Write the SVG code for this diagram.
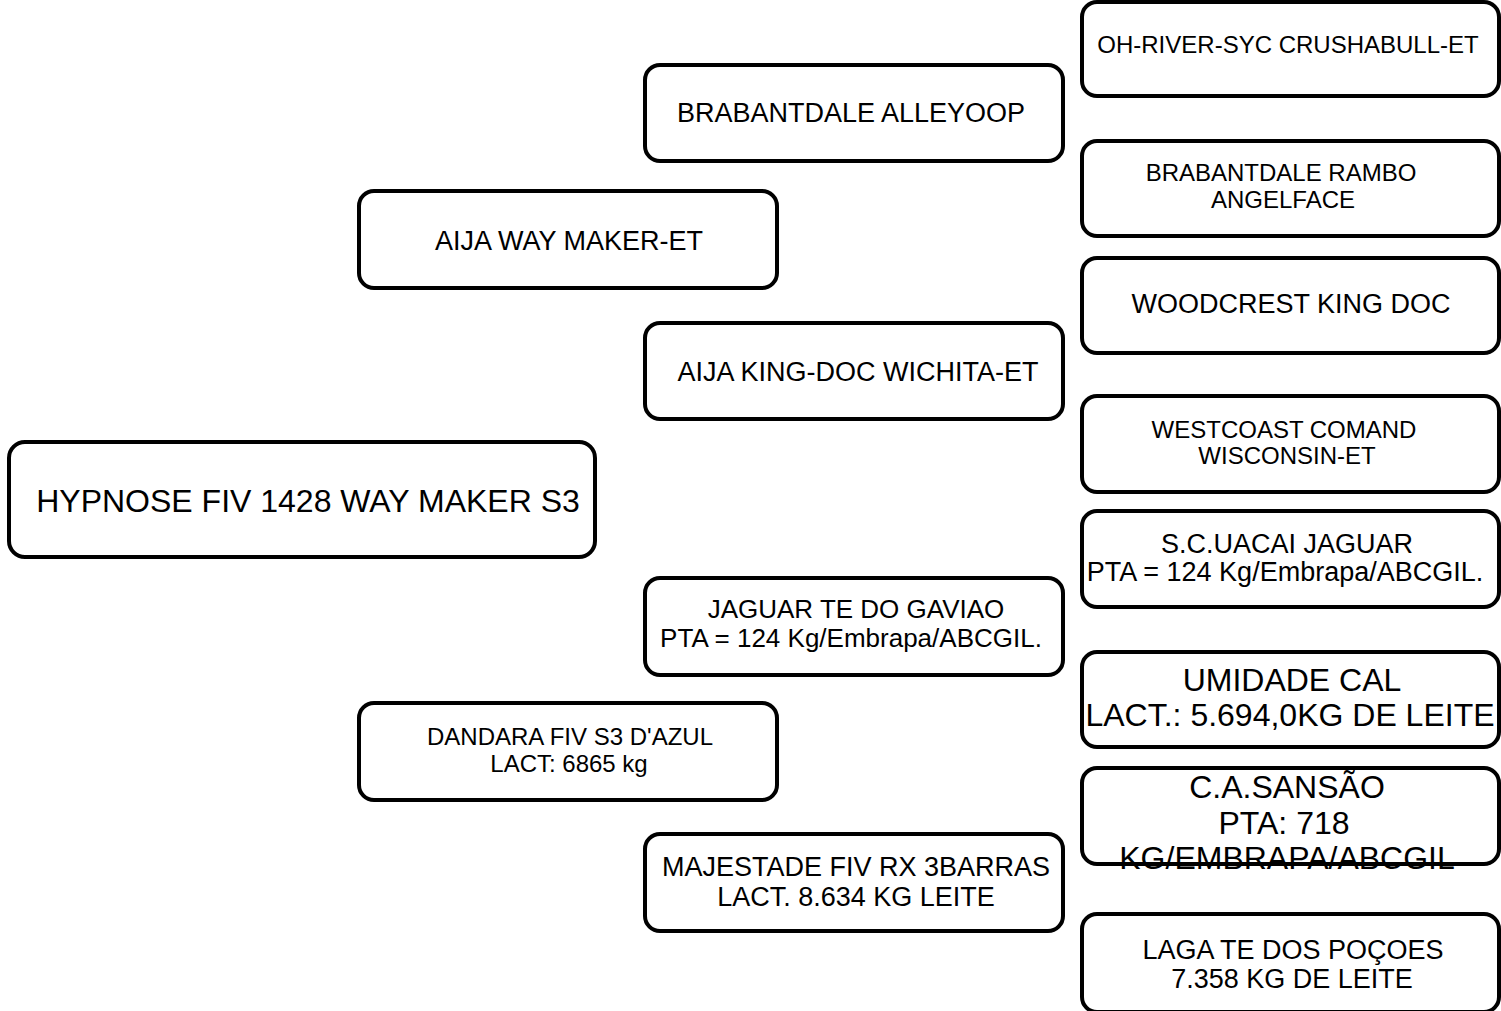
<svg xmlns="http://www.w3.org/2000/svg" width="1501" height="1011" viewBox="0 0 1501 1011">
<style>
.box{fill:#fff;stroke:#000;stroke-width:4}
text{font-family:"Liberation Sans",Arial,sans-serif;fill:#000;text-anchor:middle}
.f24{font-size:24px}
.f26{font-size:26px}
.f27{font-size:27px}
.f32{font-size:32px}
</style>
<rect width="1501" height="1011" fill="#fff"/>
<g id="connectors"></g>
<g id="n-hypnose"><rect class="box" x="9" y="442" width="586" height="115" rx="16"/><text class="f32" x="308" y="512">HYPNOSE FIV 1428 WAY MAKER S3</text></g>
<g id="n-aija-way-maker"><rect class="box" x="359" y="191" width="418" height="97" rx="15"/><text class="f27" x="569" y="250">AIJA WAY MAKER-ET</text></g>
<g id="n-alleyoop"><rect class="box" x="645" y="65" width="418" height="96" rx="15"/><text class="f27" x="851" y="122">BRABANTDALE ALLEYOOP</text></g>
<g id="n-wichita"><rect class="box" x="645" y="323" width="418" height="96" rx="15"/><text class="f27" x="858" y="381">AIJA KING-DOC WICHITA-ET</text></g>
<g id="n-jaguar-gaviao"><rect class="box" x="645" y="578" width="418" height="97" rx="15"/><text class="f26" x="856" y="618">JAGUAR TE DO GAVIAO</text><text class="f26" x="851" y="647">PTA = 124 Kg/Embrapa/ABCGIL.</text></g>
<g id="n-dandara"><rect class="box" x="359" y="703" width="418" height="97" rx="15"/><text class="f24" x="570" y="745">DANDARA FIV S3 D'AZUL</text><text class="f24" x="569" y="772">LACT: 6865 kg</text></g>
<g id="n-majestade"><rect class="box" x="645" y="834" width="418" height="97" rx="15"/><text class="f27" x="856" y="876">MAJESTADE FIV RX 3BARRAS</text><text class="f27" x="856" y="906">LACT. 8.634 KG LEITE</text></g>
<g id="n-crushabull"><rect class="box" x="1082" y="2" width="417" height="94" rx="15"/><text class="f24" x="1288" y="53">OH-RIVER-SYC CRUSHABULL-ET</text></g>
<g id="n-angelface"><rect class="box" x="1082" y="141" width="417" height="95" rx="15"/><text class="f24" x="1281" y="181">BRABANTDALE RAMBO</text><text class="f24" x="1283" y="208">ANGELFACE</text></g>
<g id="n-king-doc"><rect class="box" x="1082" y="258" width="417" height="95" rx="15"/><text class="f27" x="1291" y="313">WOODCREST KING DOC</text></g>
<g id="n-wisconsin"><rect class="box" x="1082" y="396" width="417" height="96" rx="15"/><text class="f24" x="1284" y="438">WESTCOAST COMAND</text><text class="f24" x="1287" y="464">WISCONSIN-ET</text></g>
<g id="n-uacai"><rect class="box" x="1082" y="511" width="417" height="96" rx="15"/><text class="f27" x="1287" y="553">S.C.UACAI JAGUAR</text><text class="f27" x="1285" y="581">PTA = 124 Kg/Embrapa/ABCGIL.</text></g>
<g id="n-umidade"><rect class="box" x="1082" y="652" width="417" height="95" rx="15"/><text class="f32" x="1292" y="691">UMIDADE CAL</text><text class="f32" x="1290" y="726">LACT.: 5.694,0KG DE LEITE</text></g>
<g id="n-sansao"><rect class="box" x="1082" y="768" width="417" height="96" rx="15"/><text class="f32" x="1287" y="798">C.A.SANSÃO</text><text class="f32" x="1284" y="834">PTA: 718</text><text class="f32" x="1287" y="869">KG/EMBRAPA/ABCGIL</text></g>
<g id="n-laga"><rect class="box" x="1082" y="914" width="417" height="98" rx="15"/><text class="f27" x="1293" y="959">LAGA TE DOS POÇOES</text><text class="f27" x="1292" y="988">7.358 KG DE LEITE</text></g>
</svg>
